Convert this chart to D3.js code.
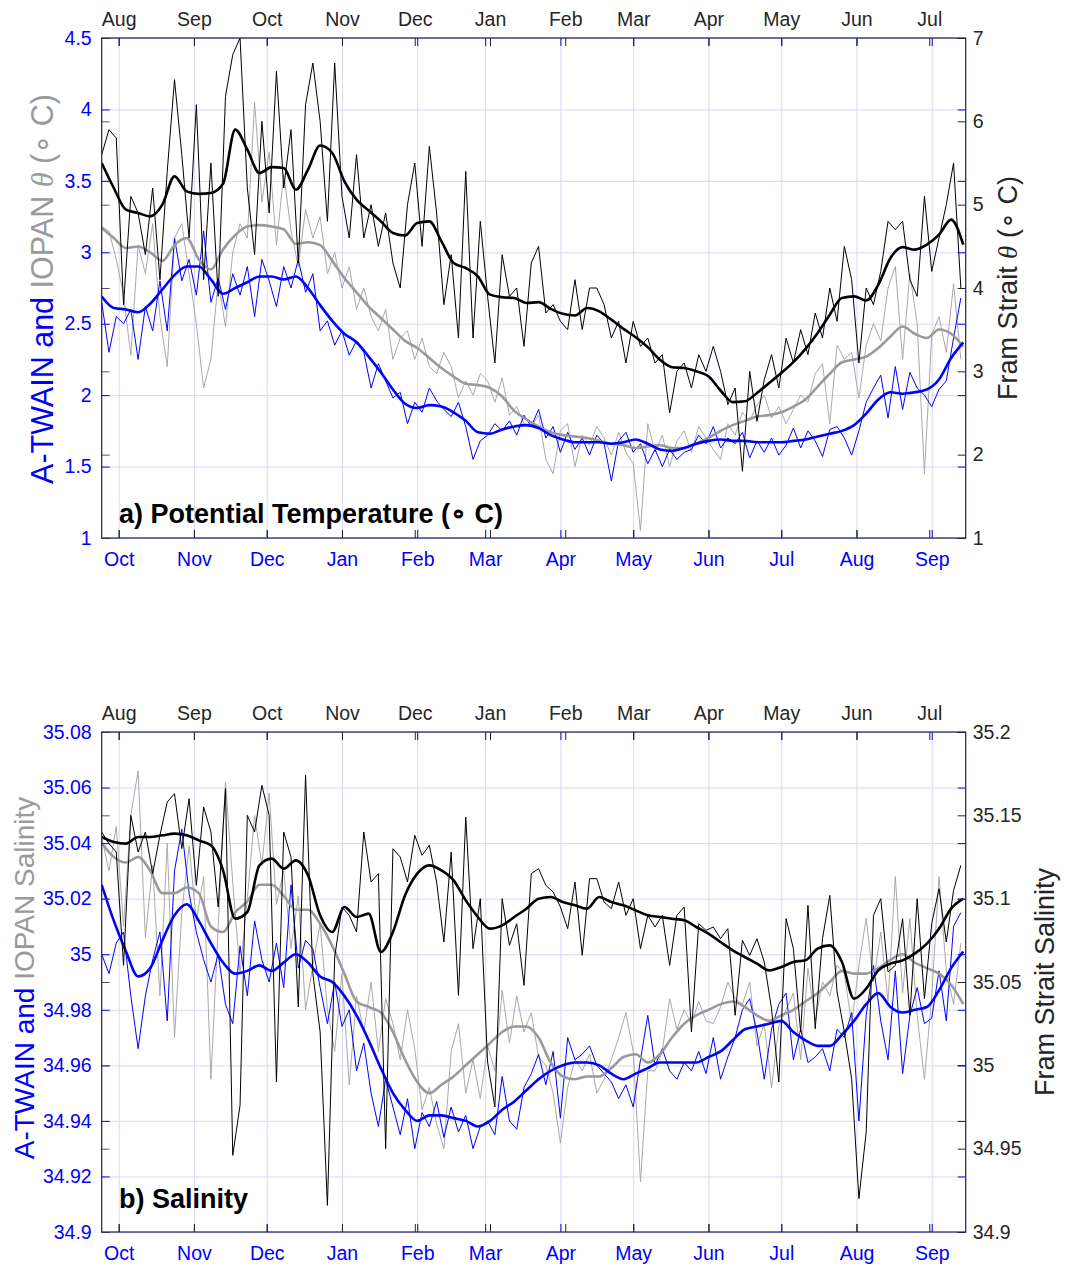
<!DOCTYPE html>
<html>
<head>
<meta charset="utf-8">
<script src="https://cdn.jsdelivr.net/npm/d3@7"></script>
<style>
  body { margin: 0; background: #fff; }
  svg { font-family: "Liberation Sans", Arial, Helvetica, sans-serif; }
</style>
</head>
<body>
<svg id="chart" width="1065" height="1267"></svg>
<script>
// ---- time axes: bottom (A-TWAIN / IOPAN) and top (Fram Strait), 61 days apart
const bottomStart = new Date(2012, 8, 24);
const topStart = new Date(2012, 6, 25);
const spanDays = 356;
const bottomMonthLabels = ["Oct", "Nov", "Dec", "Jan", "Feb", "Mar", "Apr", "May", "Jun", "Jul", "Aug", "Sep"];
const topMonthLabels = ["Aug", "Sep", "Oct", "Nov", "Dec", "Jan", "Feb", "Mar", "Apr", "May", "Jun", "Jul"];
const dailyStep = 3;   // days between the noisy samples
const smoothStep = 5;  // days between the smoothed samples

// ---- a) potential temperature
const tempLeftTicks = [1, 1.5, 2, 2.5, 3, 3.5, 4, 4.5];
const tempLeftLabels = ["1", "1.5", "2", "2.5", "3", "3.5", "4", "4.5"];
const tempRightTicks = [1, 2, 3, 4, 5, 6, 7];
const tempRightLabels = ["1", "2", "3", "4", "5", "6", "7"];

const blueTempDaily = [2.65,2.30,2.55,2.50,2.60,2.25,2.62,2.45,2.80,2.45,
  3.10,2.80,2.95,2.70,3.15,2.65,2.82,2.60,2.85,2.70,
  2.90,2.55,2.95,2.80,2.62,2.90,2.75,2.95,2.72,2.85,
  2.45,2.52,2.35,2.45,2.28,2.38,2.30,2.05,2.22,2.10,
  1.98,2.02,1.80,1.95,1.88,2.05,1.96,1.90,1.85,1.95,
  1.78,1.55,1.68,1.72,1.80,1.75,1.82,1.72,1.86,1.78,
  1.90,1.70,1.78,1.60,1.74,1.62,1.70,1.58,1.72,1.66,
  1.40,1.68,1.74,1.60,1.66,1.52,1.62,1.50,1.62,1.55,
  1.60,1.62,1.72,1.66,1.78,1.63,1.70,1.66,1.74,1.56,
  1.68,1.60,1.70,1.58,1.65,1.77,1.63,1.75,1.68,1.57,
  1.76,1.78,1.70,1.58,1.75,1.95,2.05,2.14,1.84,2.20,
  1.90,2.16,2.05,2.00,1.92,2.04,2.10,2.40,2.68];
const grayTempDaily = [3.18,3.15,2.95,2.70,2.28,3.05,2.85,3.20,2.55,2.20,
  3.10,3.20,2.85,2.50,2.05,2.25,2.80,2.48,3.00,3.20,
  3.10,4.05,3.35,3.70,3.05,3.55,3.15,2.90,3.30,3.10,
  3.25,2.85,3.00,2.75,2.90,2.60,2.75,2.55,2.45,2.60,
  2.25,2.40,2.45,2.25,2.40,2.20,2.15,2.30,2.20,1.98,
  2.10,2.00,2.15,2.10,1.95,2.12,1.86,1.92,1.80,1.78,
  1.86,1.55,1.45,1.75,1.80,1.50,1.72,1.65,1.78,1.70,
  1.58,1.74,1.60,1.52,1.05,1.80,1.60,1.72,1.50,1.68,
  1.75,1.60,1.78,1.70,1.62,1.55,1.80,1.72,1.88,1.82,
  1.93,2.00,1.84,1.92,1.80,1.90,2.00,1.95,2.15,2.22,
  1.80,2.35,2.25,2.30,1.98,2.35,2.50,2.38,2.75,2.90,
  2.25,2.85,2.50,1.45,2.42,2.55,2.30,2.78,2.25];
const blackTempDaily = [5.6,5.9,5.8,3.8,5.1,4.9,4.4,5.2,4.1,5.4,
  6.5,5.6,4.6,6.2,4.1,5.5,3.9,6.3,6.8,7.0,
  5.2,4.4,6.0,4.9,6.6,5.2,5.9,4.3,6.2,6.7,
  6.0,4.8,6.7,5.1,4.6,5.6,4.6,5.0,4.5,4.9,
  4.3,4.0,5.0,5.5,4.5,5.7,4.9,3.8,4.4,3.4,
  5.4,3.4,4.8,3.9,3.1,4.4,3.9,4.0,3.3,4.3,
  4.5,3.7,3.8,3.6,3.5,4.1,3.5,4.0,4.0,3.8,
  3.4,3.6,3.1,3.6,3.3,3.4,3.1,3.2,2.5,3.0,
  3.1,2.8,3.2,3.0,3.3,3.0,2.6,2.8,1.8,3.0,
  2.4,2.9,3.2,2.8,3.4,3.1,3.5,3.2,3.7,3.4,
  4.0,3.6,4.5,4.1,3.1,4.0,3.8,4.2,4.8,4.7,
  4.8,4.1,3.9,5.1,4.2,4.6,5.0,5.5,4.0];

const blueTempSmooth = [2.69,2.61,2.60,2.58,2.64,2.74,2.84,2.90,2.90,2.81,
  2.71,2.75,2.79,2.83,2.83,2.81,2.83,2.75,2.63,2.52,
  2.43,2.37,2.27,2.16,2.04,1.94,1.91,1.93,1.92,1.88,
  1.82,1.74,1.73,1.76,1.78,1.79,1.77,1.72,1.69,1.67,
  1.67,1.67,1.66,1.67,1.69,1.66,1.62,1.61,1.63,1.66,
  1.68,1.69,1.68,1.68,1.67,1.67,1.67,1.68,1.69,1.71,
  1.73,1.75,1.79,1.87,1.97,2.02,2.01,2.02,2.04,2.11,
  2.26,2.37];
const grayTempSmooth = [3.17,3.10,3.03,3.04,3.00,2.94,3.05,3.10,2.95,2.88,
  3.02,3.12,3.18,3.19,3.18,3.16,3.06,3.07,3.05,2.94,
  2.82,2.72,2.62,2.54,2.46,2.38,2.33,2.26,2.19,2.13,
  2.08,2.07,2.05,1.99,1.89,1.83,1.78,1.74,1.72,1.71,
  1.70,1.68,1.66,1.65,1.63,1.64,1.65,1.63,1.63,1.66,
  1.70,1.75,1.79,1.82,1.85,1.86,1.88,1.92,1.97,2.06,
  2.15,2.23,2.25,2.27,2.33,2.41,2.48,2.43,2.40,2.46,
  2.43,2.34];
const blackTempSmooth = [5.50,5.20,4.94,4.90,4.86,5.00,5.34,5.16,5.13,5.14,
  5.25,5.90,5.66,5.38,5.45,5.44,5.18,5.42,5.71,5.62,
  5.28,5.06,4.93,4.80,4.66,4.63,4.78,4.80,4.56,4.30,
  4.24,4.14,3.92,3.89,3.88,3.82,3.83,3.75,3.69,3.67,
  3.76,3.72,3.62,3.51,3.41,3.29,3.14,3.05,3.04,3.00,
  2.94,2.77,2.63,2.64,2.74,2.86,2.98,3.11,3.27,3.46,
  3.68,3.88,3.90,3.85,4.04,4.36,4.49,4.46,4.52,4.64,
  4.82,4.52];

// ---- b) salinity
const salLeftTicks = [34.9, 34.92, 34.94, 34.96, 34.98, 35, 35.02, 35.04, 35.06, 35.08];
const salLeftLabels = ["34.9", "34.92", "34.94", "34.96", "34.98", "35", "35.02", "35.04", "35.06", "35.08"];
const salRightTicks = [34.9, 34.95, 35, 35.05, 35.1, 35.15, 35.2];
const salRightLabels = ["34.9", "34.95", "35", "35.05", "35.1", "35.15", "35.2"];

const blueSalDaily = [35.000,34.993,35.004,35.008,34.985,34.966,34.985,34.998,35.008,34.976,
  35.030,35.045,35.022,35.008,34.998,34.990,35.000,34.982,34.975,35.003,
  34.985,35.012,34.998,34.990,35.004,34.988,35.025,34.995,35.005,35.002,
  34.988,34.975,34.990,34.974,34.980,34.958,34.968,34.950,34.938,34.955,
  34.945,34.935,34.948,34.930,34.943,34.938,34.947,34.934,34.945,34.936,
  34.942,34.930,34.938,34.940,34.935,34.956,34.940,34.937,34.952,34.957,
  34.964,34.953,34.965,34.941,34.970,34.962,34.964,34.967,34.960,34.957,
  34.954,34.948,34.953,34.945,34.962,34.978,34.960,34.966,34.958,34.955,
  34.961,34.958,34.965,34.957,34.970,34.955,34.963,34.970,34.980,34.984,
  34.972,34.955,34.973,34.982,34.986,34.962,34.973,34.961,34.963,34.966,
  34.958,34.973,34.970,34.979,34.940,34.978,34.996,34.976,34.962,34.994,
  34.957,34.978,34.988,34.975,34.977,34.994,34.976,35.010,35.015];
const graySalDaily = [35.042,35.030,35.046,35.010,35.050,35.066,35.006,35.032,34.985,35.040,
  34.970,35.015,35.039,35.012,35.028,34.955,35.010,35.062,35.026,34.993,
  35.020,35.050,35.032,35.058,35.018,35.030,35.002,35.021,34.980,34.996,
  35.011,34.980,34.965,34.993,34.953,34.985,34.972,34.990,34.965,34.984,
  34.975,34.962,34.980,34.966,34.944,34.952,34.939,34.930,34.965,34.975,
  34.950,34.962,34.948,34.967,34.958,34.987,34.968,34.985,34.972,34.979,
  34.963,34.960,34.950,34.932,34.952,34.962,34.958,34.964,34.950,34.955,
  34.962,34.970,34.979,34.965,34.918,34.958,34.958,34.965,34.984,34.973,
  34.980,34.975,34.983,34.976,34.975,34.981,34.990,34.984,34.982,34.990,
  34.967,34.975,34.952,34.974,34.980,34.986,34.962,34.995,34.976,34.990,
  34.985,34.996,34.993,34.975,34.996,35.013,34.990,35.008,34.983,35.028,
  34.986,35.013,34.978,34.955,34.985,35.028,34.994,34.982,35.004];
const blackSalDaily = [35.140,35.133,35.128,35.060,35.150,35.128,35.140,35.115,35.138,35.158,
  35.163,35.130,35.160,35.108,35.155,35.140,35.095,35.166,34.946,34.976,
  35.150,35.140,35.168,35.150,34.990,35.140,35.125,35.035,35.174,35.055,
  35.020,34.916,35.065,35.095,35.090,35.080,35.140,35.110,35.115,34.950,
  35.130,35.125,35.110,35.138,35.126,35.132,35.110,35.074,35.128,35.042,
  35.149,35.070,35.100,35.002,34.975,35.100,35.072,35.085,35.048,35.115,
  35.118,35.108,35.104,35.095,35.082,35.110,35.066,35.112,35.112,35.098,
  35.094,35.110,35.090,35.100,35.070,35.090,35.083,35.090,35.060,35.090,
  35.095,35.020,35.085,35.081,35.083,35.076,35.082,35.030,35.075,35.066,
  35.076,35.062,35.034,34.990,35.088,35.070,35.020,35.096,35.022,35.076,
  35.102,35.044,35.020,34.992,34.920,34.960,35.090,35.100,35.056,35.060,
  35.088,35.030,35.100,35.040,35.085,35.106,35.074,35.105,35.120];

const blueSalSmooth = [35.025,35.012,35.001,34.992,34.995,35.005,35.014,35.018,35.012,35.004,
  34.997,34.993,34.994,34.996,34.994,34.997,35.000,34.997,34.992,34.990,
  34.985,34.978,34.969,34.959,34.950,34.944,34.940,34.942,34.942,34.941,
  34.940,34.938,34.940,34.944,34.947,34.951,34.955,34.958,34.960,34.961,
  34.961,34.960,34.957,34.955,34.957,34.959,34.961,34.961,34.961,34.961,
  34.963,34.965,34.969,34.973,34.974,34.975,34.976,34.972,34.969,34.967,
  34.967,34.971,34.976,34.982,34.986,34.981,34.979,34.980,34.981,34.987,
  34.995,35.001];
const graySalSmooth = [35.040,35.035,35.033,35.035,35.030,35.022,35.022,35.024,35.022,35.010,
  35.008,35.015,35.019,35.025,35.025,35.021,35.016,35.016,35.011,35.003,
  34.993,34.983,34.981,34.979,34.972,34.962,34.954,34.950,34.953,34.956,
  34.960,34.964,34.968,34.972,34.974,34.974,34.970,34.961,34.956,34.955,
  34.956,34.956,34.959,34.963,34.964,34.961,34.964,34.970,34.975,34.978,
  34.980,34.982,34.983,34.981,34.978,34.976,34.978,34.980,34.983,34.986,
  34.990,34.994,34.993,34.993,34.995,34.998,35.000,34.997,34.995,34.993,
  34.989,34.982];
const blackSalSmooth = [35.137,35.134,35.133,35.137,35.137,35.138,35.139,35.138,35.135,35.132,
  35.117,35.088,35.092,35.120,35.124,35.118,35.123,35.114,35.090,35.080,
  35.095,35.089,35.091,35.068,35.080,35.102,35.115,35.120,35.117,35.111,
  35.099,35.089,35.082,35.084,35.089,35.094,35.100,35.101,35.098,35.096,
  35.094,35.101,35.098,35.096,35.093,35.090,35.089,35.088,35.087,35.083,
  35.079,35.074,35.069,35.065,35.061,35.057,35.059,35.062,35.063,35.070,
  35.072,35.062,35.040,35.046,35.057,35.061,35.063,35.067,35.073,35.082,
  35.094,35.100];

// ---- layout
const plotLeft = 101.7, plotRight = 965.7;
const blue = "#0000ff", gray = "#9a9a9a", grayThin = "#a9a9a9", dark = "#262626";
const gridColor = "#d8d8fb";
const tickFont = 19.5;

const svg = d3.select("#chart");

const bottomEnd = d3.timeDay.offset(bottomStart, spanDays);
const topEnd = d3.timeDay.offset(topStart, spanDays);
const x = d3.scaleTime().domain([bottomStart, bottomEnd]).range([plotLeft, plotRight]);
const xTop = d3.scaleTime().domain([topStart, topEnd]).range([plotLeft, plotRight]);
const bottomMonths = d3.timeMonth.range(d3.timeDay.offset(bottomStart, 1), bottomEnd);
const topMonths = d3.timeMonth.range(d3.timeDay.offset(topStart, 1), topEnd);

function toPoints(values, start, step) {
    return values.map((v, i) => ({date: d3.timeDay.offset(start, i * step), v: v}));
}

function styleAxis(sel, color) {
    sel.select(".domain").remove();
    sel.selectAll(".tick line").attr("stroke", color).attr("stroke-width", 1);
    sel.selectAll(".tick text")
        .attr("fill", color)
        .style("font-size", tickFont + "px")
        .style("font-family", '"Liberation Sans", Arial, sans-serif');
    return sel;
}

function drawPanel(p) {
    const g = svg.append("g");
    const h = p.bottom - p.top;
    const yL = d3.scaleLinear().domain(p.leftDomain).range([p.bottom, p.top]);
    const yR = d3.scaleLinear().domain(p.rightDomain).range([p.bottom, p.top]);

    // grid lines: bottom months and left ticks
    g.append("g")
        .attr("transform", `translate(0,${p.bottom})`)
        .call(d3.axisBottom(x).tickValues(bottomMonths).tickSize(-h).tickFormat(""))
        .call(s => { s.select(".domain").remove(); s.selectAll("line").attr("stroke", gridColor); });
    g.append("g")
        .attr("transform", `translate(${plotLeft},0)`)
        .call(d3.axisLeft(yL).tickValues(p.leftTicks).tickSize(-(plotRight - plotLeft)).tickFormat(""))
        .call(s => { s.select(".domain").remove(); s.selectAll("line").attr("stroke", gridColor); });

    // clip
    const clipId = "clip-" + p.id;
    svg.append("clipPath").attr("id", clipId)
        .append("rect")
        .attr("x", plotLeft).attr("y", p.top)
        .attr("width", plotRight - plotLeft).attr("height", h);

    const lines = g.append("g").attr("clip-path", `url(#${clipId})`);
    const lineLeft = d3.line().x(d => x(d.date)).y(d => yL(d.v));
    const lineRight = d3.line().x(d => xTop(d.date)).y(d => yR(d.v));
    const smoothLeft = d3.line().x(d => x(d.date)).y(d => yL(d.v)).curve(d3.curveMonotoneX);
    const smoothRight = d3.line().x(d => xTop(d.date)).y(d => yR(d.v)).curve(d3.curveMonotoneX);

    lines.append("path")
        .datum(toPoints(p.grayDaily, bottomStart, dailyStep))
        .attr("d", lineLeft).attr("fill", "none").attr("stroke", grayThin).attr("stroke-width", 1);
    lines.append("path")
        .datum(toPoints(p.blueDaily, bottomStart, dailyStep))
        .attr("d", lineLeft).attr("fill", "none").attr("stroke", blue).attr("stroke-width", 1);
    lines.append("path")
        .datum(toPoints(p.graySmooth, bottomStart, smoothStep))
        .attr("d", smoothLeft).attr("fill", "none").attr("stroke", gray).attr("stroke-width", 2.6);
    lines.append("path")
        .datum(toPoints(p.blueSmooth, bottomStart, smoothStep))
        .attr("d", smoothLeft).attr("fill", "none").attr("stroke", blue).attr("stroke-width", 2.6);
    lines.append("path")
        .datum(toPoints(p.blackDaily, topStart, dailyStep))
        .attr("d", lineRight).attr("fill", "none").attr("stroke", "#000").attr("stroke-width", 1);
    lines.append("path")
        .datum(toPoints(p.blackSmooth, topStart, smoothStep))
        .attr("d", smoothRight).attr("fill", "none").attr("stroke", "#000").attr("stroke-width", 2.6);

    // bottom (blue) month axis, ticks on both edges
    g.append("g").attr("transform", `translate(0,${p.bottom})`)
        .call(d3.axisBottom(x).tickValues(bottomMonths).tickSize(-8).tickPadding(14)
            .tickFormat((d, i) => bottomMonthLabels[i]))
        .call(s => styleAxis(s, blue));
    g.append("g").attr("transform", `translate(0,${p.top})`)
        .call(d3.axisTop(x).tickValues(bottomMonths).tickSize(-8).tickFormat(""))
        .call(s => styleAxis(s, blue));

    // top (black) month axis, ticks on both edges
    g.append("g").attr("transform", `translate(0,${p.top})`)
        .call(d3.axisTop(xTop).tickValues(topMonths).tickSize(-8).tickPadding(12)
            .tickFormat((d, i) => topMonthLabels[i]))
        .call(s => styleAxis(s, dark));
    g.append("g").attr("transform", `translate(0,${p.bottom})`)
        .call(d3.axisBottom(xTop).tickValues(topMonths).tickSize(-8).tickFormat(""))
        .call(s => styleAxis(s, dark));

    // left (blue) value axis
    g.append("g").attr("transform", `translate(${plotLeft},0)`)
        .call(d3.axisLeft(yL).tickValues(p.leftTicks).tickSize(-8).tickPadding(10)
            .tickFormat((d, i) => p.leftLabels[i]))
        .call(s => styleAxis(s, blue));
    g.append("g").attr("transform", `translate(${plotRight},0)`)
        .call(d3.axisRight(yL).tickValues(p.leftTicks).tickSize(-8).tickFormat(""))
        .call(s => styleAxis(s, blue));

    // right (black) value axis
    g.append("g").attr("transform", `translate(${plotRight},0)`)
        .call(d3.axisRight(yR).tickValues(p.rightTicks).tickSize(-8).tickPadding(7)
            .tickFormat((d, i) => p.rightLabels[i]))
        .call(s => styleAxis(s, dark));
    g.append("g").attr("transform", `translate(${plotLeft},0)`)
        .call(d3.axisLeft(yR).tickValues(p.rightTicks).tickSize(-8).tickFormat(""))
        .call(s => styleAxis(s, "#555"));

    // frame
    g.append("rect")
        .attr("x", plotLeft).attr("y", p.top)
        .attr("width", plotRight - plotLeft).attr("height", h)
        .attr("fill", "none").attr("stroke", "#1e1e50").attr("stroke-width", 1.2);

    // panel label
    g.append("text")
        .attr("x", 119).attr("y", p.labelY)
        .style("font-size", "27px").style("font-weight", "bold")
        .attr("fill", "#000")
        .text(p.label);

    // left axis title
    const midY = (p.top + p.bottom) / 2;
    const lt = g.append("text")
        .attr("transform", `translate(${p.leftTitleX},${midY + p.leftTitleShift}) rotate(-90)`)
        .attr("text-anchor", "middle")
        .style("font-size", p.leftTitleSize + "px");
    lt.append("tspan").attr("fill", blue).text("A-TWAIN and ");
    p.leftTitleRest.forEach(part => {
        const t = lt.append("tspan").attr("fill", gray).text(part.text);
        if (part.italic) t.style("font-style", "italic").style("font-family", '"Liberation Serif", serif');
    });

    // right axis title
    const rt = g.append("text")
        .attr("transform", `translate(${p.rightTitleX},${midY}) rotate(-90)`)
        .attr("text-anchor", "middle")
        .style("font-size", "27px")
        .attr("fill", dark);
    p.rightTitle.forEach(part => {
        const t = rt.append("tspan").text(part.text);
        if (part.italic) t.style("font-style", "italic").style("font-family", '"Liberation Serif", serif');
    });
}

drawPanel({
    id: "temp", top: 38, bottom: 538,
    leftDomain: [1, 4.5], rightDomain: [1, 7],
    leftTicks: tempLeftTicks, leftLabels: tempLeftLabels,
    rightTicks: tempRightTicks, rightLabels: tempRightLabels,
    blueDaily: blueTempDaily, grayDaily: grayTempDaily, blackDaily: blackTempDaily,
    blueSmooth: blueTempSmooth, graySmooth: grayTempSmooth, blackSmooth: blackTempSmooth,
    label: "a) Potential Temperature (\u2218 C)", labelY: 523,
    leftTitleX: 53, leftTitleSize: 30.5, leftTitleShift: 1,
    rightTitleX: 1017,
    leftTitleRest: [{text: "IOPAN "}, {text: "\u03b8", italic: true}, {text: " (\u2218 C)"}],
    rightTitle: [{text: "Fram Strait "}, {text: "\u03b8", italic: true}, {text: " (\u2218 C)"}]
});

drawPanel({
    id: "sal", top: 732, bottom: 1232,
    leftDomain: [34.9, 35.08], rightDomain: [34.9, 35.2],
    leftTicks: salLeftTicks, leftLabels: salLeftLabels,
    rightTicks: salRightTicks, rightLabels: salRightLabels,
    blueDaily: blueSalDaily, grayDaily: graySalDaily, blackDaily: blackSalDaily,
    blueSmooth: blueSalSmooth, graySmooth: graySalSmooth, blackSmooth: blackSalSmooth,
    label: "b) Salinity", labelY: 1208,
    leftTitleX: 34, leftTitleSize: 28, leftTitleShift: -4,
    rightTitleX: 1054,
    leftTitleRest: [{text: "IOPAN Salinity"}],
    rightTitle: [{text: "Fram Strait Salinity"}]
});
</script>
</body>
</html>
